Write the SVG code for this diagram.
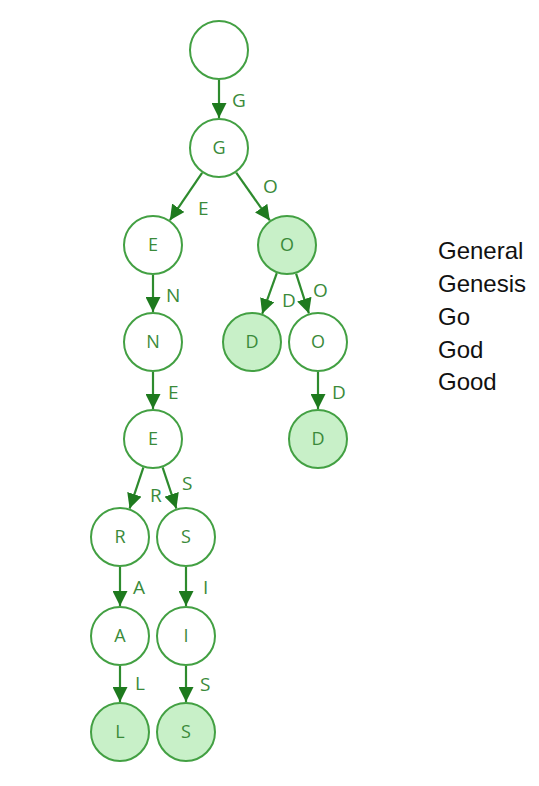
<svg xmlns="http://www.w3.org/2000/svg" width="539" height="786" viewBox="0 0 539 786">
<style>
.node circle{fill:#ffffff;stroke:#43a043;stroke-width:2}
.node.term circle{fill:#c8f0c8}
.node text{font-family:"Open Sans","Liberation Sans",sans-serif;font-size:18px;fill:#3a8a3a;text-anchor:middle}
.edges line{stroke:#2e8b2e;stroke-width:2.2;marker-end:url(#arr)}
.elabel{font-family:"Open Sans","Liberation Sans",sans-serif;font-size:19px;fill:#3a8a3a}
.words text{font-family:"Liberation Sans",sans-serif;font-size:24px;fill:#111111}
</style>
<defs>
<marker id="arr" markerUnits="userSpaceOnUse" markerWidth="15" markerHeight="15" refX="14" refY="7" orient="auto" viewBox="0 0 14 14">
<path d="M0,0 L14,7 L0,14 z" fill="#1e7a1e"/>
</marker>
</defs>
<rect width="539" height="786" fill="#ffffff"/>
<g class="edges" id="edges">
<line x1="219" y1="80" x2="219" y2="118"/>
<line x1="202.1" y1="172.8" x2="169.9" y2="220.2"/>
<line x1="236.2" y1="172.6" x2="269.8" y2="220.4"/>
<line x1="153" y1="275" x2="153" y2="312"/>
<line x1="276.8" y1="273.2" x2="262.2" y2="313.8"/>
<line x1="296.1" y1="273.6" x2="308.9" y2="313.4"/>
<line x1="318" y1="372" x2="318" y2="409"/>
<line x1="153" y1="372" x2="153" y2="409"/>
<line x1="143.4" y1="467.4" x2="129.6" y2="508.6"/>
<line x1="162.6" y1="467.4" x2="176.4" y2="508.6"/>
<line x1="120" y1="567" x2="120" y2="606"/>
<line x1="186" y1="567" x2="186" y2="606"/>
<line x1="120" y1="666" x2="120" y2="702"/>
<line x1="186" y1="666" x2="186" y2="702"/>
<text class="elabel" x="232" y="107">G</text>
<text class="elabel" x="198" y="215">E</text>
<text class="elabel" x="263" y="193">O</text>
<text class="elabel" x="166" y="302">N</text>
<text class="elabel" x="282" y="307">D</text>
<text class="elabel" x="313" y="297">O</text>
<text class="elabel" x="168" y="399">E</text>
<text class="elabel" x="332" y="399">D</text>
<text class="elabel" x="150" y="502">R</text>
<text class="elabel" x="182" y="490">S</text>
<text class="elabel" x="133" y="594">A</text>
<text class="elabel" x="203" y="594">I</text>
<text class="elabel" x="135" y="690">L</text>
<text class="elabel" x="200" y="691">S</text>
</g>
<g class="node" id="root"><circle cx="219" cy="50" r="29"/></g>
<g class="node" id="n-G"><circle cx="219" cy="148" r="29"/><text x="219" y="154">G</text></g>
<g class="node" id="n-GE"><circle cx="153" cy="245" r="29"/><text x="153" y="251">E</text></g>
<g class="node term" id="n-GO"><circle cx="287" cy="245" r="29"/><text x="287" y="251">O</text></g>
<g class="node" id="n-GEN"><circle cx="153" cy="342" r="29"/><text x="153" y="348">N</text></g>
<g class="node term" id="n-GOD"><circle cx="252" cy="342" r="29"/><text x="252" y="348">D</text></g>
<g class="node" id="n-GOO"><circle cx="318" cy="342" r="29"/><text x="318" y="348">O</text></g>
<g class="node" id="n-GENE"><circle cx="153" cy="439" r="29"/><text x="153" y="445">E</text></g>
<g class="node term" id="n-GOOD"><circle cx="318" cy="439" r="29"/><text x="318" y="445">D</text></g>
<g class="node" id="n-GENER"><circle cx="120" cy="537" r="29"/><text x="120" y="543">R</text></g>
<g class="node" id="n-GENES"><circle cx="186" cy="537" r="29"/><text x="186" y="543">S</text></g>
<g class="node" id="n-GENERA"><circle cx="120" cy="636" r="29"/><text x="120" y="642">A</text></g>
<g class="node" id="n-GENESI"><circle cx="186" cy="636" r="29"/><text x="186" y="642">I</text></g>
<g class="node term" id="n-GENERAL"><circle cx="120" cy="732" r="29"/><text x="120" y="738">L</text></g>
<g class="node term" id="n-GENESIS"><circle cx="186" cy="732" r="29"/><text x="186" y="738">S</text></g>
<g class="words" id="words">
<text x="438" y="259">General</text>
<text x="438" y="292">Genesis</text>
<text x="438" y="325">Go</text>
<text x="438" y="358">God</text>
<text x="438" y="390">Good</text>
</g>
</svg>
